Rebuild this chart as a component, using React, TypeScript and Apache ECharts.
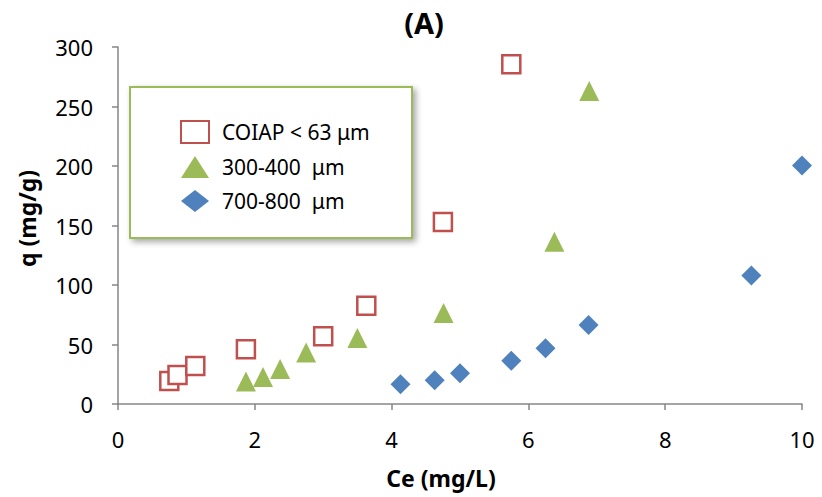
import React, { useEffect, useRef } from "react";
import * as echarts from "echarts";

const coiapX = [0.75, 0.87, 1.13, 1.87, 3.0, 3.63, 4.75, 5.75];
const coiapY = [19.3, 24.4, 32, 46, 57, 82.6, 153, 285.5];
const s300X = [1.87, 2.12, 2.37, 2.75, 3.5, 4.76, 6.38, 6.89];
const s300Y = [18.9, 22.7, 29.4, 43.3, 55.5, 76.5, 136.4, 263];
const s700X = [4.13, 4.63, 5.0, 5.75, 6.25, 6.88, 9.26, 10.0];
const s700Y = [16.5, 20, 25.8, 36.4, 46.8, 66.4, 108, 200.5];
const seriesNames = ["COIAP < 63 μm", "300-400  μm", "700-800  μm"];

const zip = (xs: number[], ys: number[]) => xs.map((x, i) => [x, ys[i]]);

const FONT = "Noto Sans";

export default function App() {
  const ref = useRef<HTMLDivElement>(null);
  useEffect(() => {
    if (!ref.current) return;
    const chart = echarts.init(ref.current, null, { renderer: "svg" });
    const axisColor = "#868686";
    chart.setOption({
      animation: false,
      textStyle: { fontFamily: FONT },
      title: {
        text: "(A)",
        left: 419,
        top: 3,
        textAlign: "center",
        textStyle: { fontFamily: FONT, fontSize: 29, fontWeight: "bold", color: "#000" },
      },
      grid: { left: 118, right: 20, top: 47, bottom: 93 },
      xAxis: {
        type: "value",
        min: 0,
        max: 10,
        interval: 2,
        name: "Ce (mg/L)",
        nameLocation: "middle",
        nameGap: 62,
        nameTextStyle: {
          fontFamily: FONT,
          fontSize: 23,
          fontWeight: "bold",
          color: "#000",
          padding: [0, 38, 0, 0],
        },
        axisLine: { show: true, lineStyle: { color: axisColor, width: 1.5 } },
        axisTick: { show: true, inside: false, length: 6, lineStyle: { color: axisColor, width: 1.5 } },
        axisLabel: { fontFamily: FONT, fontSize: 22, color: "#000", margin: 24 },
        splitLine: { show: false },
      },
      yAxis: {
        type: "value",
        min: 0,
        max: 300,
        interval: 50,
        name: "q (mg/g)",
        nameLocation: "middle",
        nameGap: 80,
        nameTextStyle: {
          fontFamily: FONT,
          fontSize: 23,
          fontWeight: "bold",
          color: "#000",
          padding: [0, 0, 0, 14],
        },
        axisLine: { show: true, lineStyle: { color: axisColor, width: 1.5 } },
        axisTick: { show: true, inside: false, length: 6, lineStyle: { color: axisColor, width: 1.5 } },
        axisLabel: { fontFamily: FONT, fontSize: 22, color: "#000", margin: 25 },
        splitLine: { show: false },
      },
      graphic: [
        {
          type: "rect",
          z: 0,
          shape: { x: 130, y: 87, width: 282, height: 151 },
          style: {
            fill: "#fff",
            stroke: "#9bbb59",
            lineWidth: 2,
            shadowBlur: 6,
            shadowOffsetX: 3,
            shadowOffsetY: 3,
            shadowColor: "rgba(0,0,0,0.35)",
          },
        },
      ],
      legend: {
        orient: "vertical",
        left: 180,
        top: 120,
        padding: 0,
        itemWidth: 28,
        itemHeight: 22,
        itemGap: 12,
        data: seriesNames,
        textStyle: {
          fontFamily: FONT,
          fontSize: 21,
          lineHeight: 22,
          color: "#000",
          padding: [0, 0, 0, 8],
        },
      },
      series: [
        {
          name: seriesNames[0],
          type: "scatter",
          symbol: "rect",
          symbolSize: 18,
          data: zip(coiapX, coiapY),
          itemStyle: { color: "#ffffff", borderColor: "#c0504d", borderWidth: 2.5, opacity: 1 },
        },
        {
          name: seriesNames[1],
          type: "scatter",
          symbol: "triangle",
          symbolSize: 20,
          data: zip(s300X, s300Y),
          itemStyle: { color: "#9bbb59", opacity: 1 },
        },
        {
          name: seriesNames[2],
          type: "scatter",
          symbol: "diamond",
          symbolSize: 20,
          data: zip(s700X, s700Y),
          itemStyle: { color: "#4f81bd", opacity: 1 },
        },
      ],
    });
    return () => chart.dispose();
  }, []);
  return (
    <div
      ref={ref}
      style={{ position: "absolute", left: 0, top: 0, width: 822, height: 497 }}
    />
  );
}
